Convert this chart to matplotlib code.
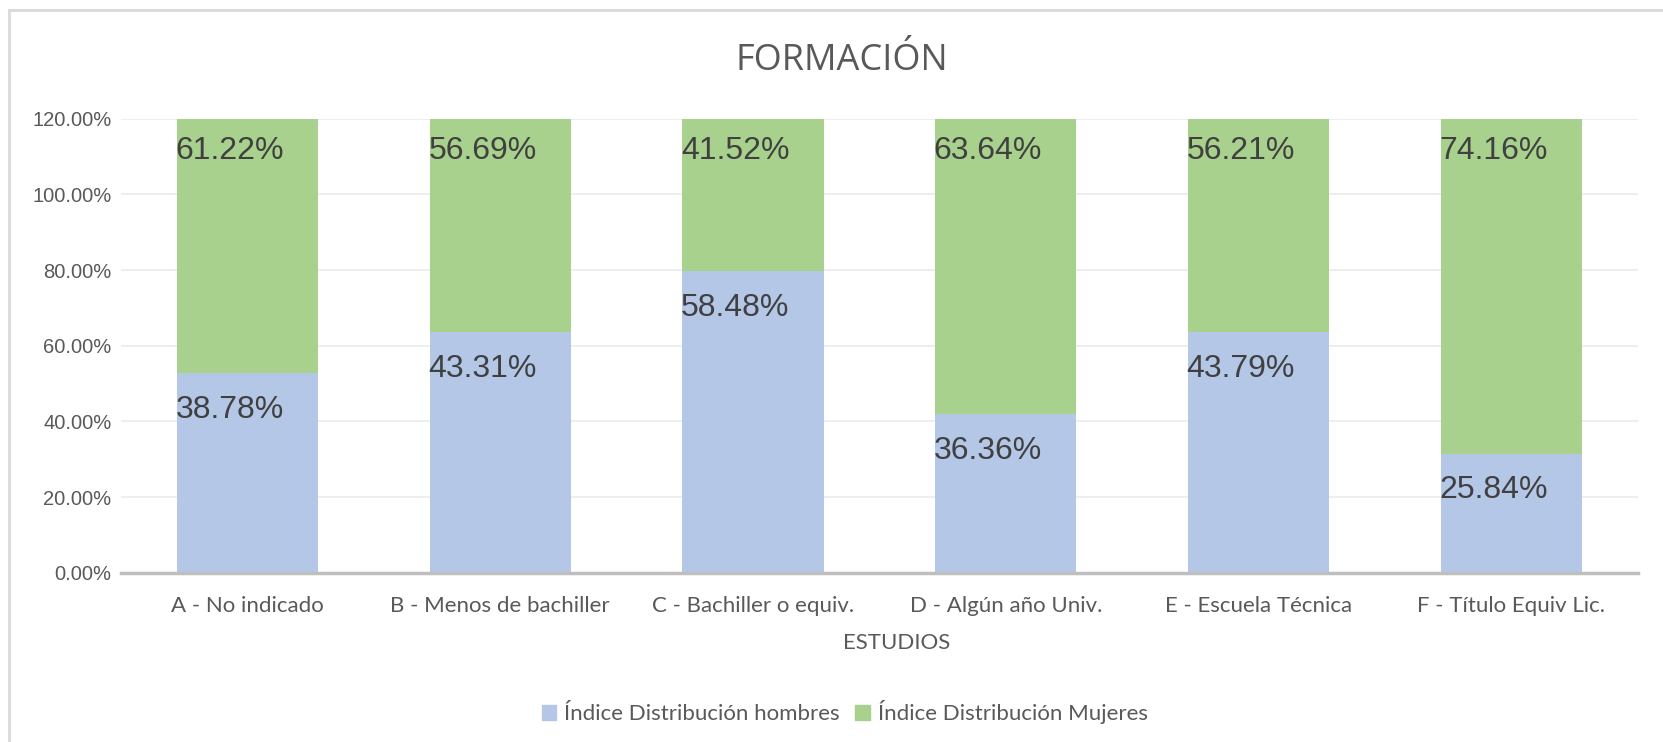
import numpy as np
import matplotlib
matplotlib.use("Agg")
import matplotlib.pyplot as plt
from matplotlib.lines import Line2D
from matplotlib.patches import Patch

categorias = ["A - No indicado", "B - Menos de bachiller", "C - Bachiller o equiv.",
              "D - Algún año Univ.", "E - Escuela Técnica", "F - Título Equiv Lic."]
# bar heights as drawn (axis units, %)
alto_hombres = [52.8, 63.6, 79.7, 42.0, 63.6, 31.5]
alto_mujeres = [67.2, 56.4, 40.3, 78.0, 56.4, 88.5]
# data labels shown on the bars
etiq_hombres = ["38.78%", "43.31%", "58.48%", "36.36%", "43.79%", "25.84%"]
etiq_mujeres = ["61.22%", "56.69%", "41.52%", "63.64%", "56.21%", "74.16%"]
yticks = [0, 20, 40, 60, 80, 100, 120]

azul = "#b4c7e7"
verde = "#a9d18e"
gris = "#595959"

fig = plt.figure(figsize=(16.63, 7.42), dpi=100)
ax = fig.add_axes([0.0728, 0.228, 0.912, 0.612])

x = np.arange(len(categorias))
w = 0.558
ax.bar(x, alto_hombres, w, color=azul, zorder=2)
ax.bar(x, alto_mujeres, w, bottom=alto_hombres, color=verde, zorder=2)

ax.set_xlim(-0.5, len(categorias) - 0.5)
ax.set_ylim(0, 120)

for i in range(len(categorias)):
    ax.annotate(etiq_hombres[i], (x[i] - w / 2, alto_hombres[i]), xytext=(-1, -26.5),
                textcoords="offset points", ha="left", va="center",
                fontsize=23, color="#404040", family="Liberation Sans", zorder=3)
    ax.annotate(etiq_mujeres[i], (x[i] - w / 2, 120), xytext=(-1, -23.5),
                textcoords="offset points", ha="left", va="center",
                fontsize=23, color="#404040", family="Liberation Sans", zorder=3)

ax.set_yticks(yticks)
ax.set_yticklabels(["%.2f%%" % v for v in yticks], family="Liberation Sans",
                   fontsize=14.5, color=gris)
ax.set_xticks(x)
ax.set_xticklabels(categorias, family="Lato", fontsize=16, color=gris)
ax.tick_params(axis="both", length=0)
ax.tick_params(axis="x", pad=17)
ax.tick_params(axis="y", pad=7)

ax.grid(axis="y", color="#ededed", linewidth=1.3, zorder=0)
for s in ["top", "right", "left"]:
    ax.spines[s].set_visible(False)
ax.spines["bottom"].set_color("#bfbfbf")
ax.spines["bottom"].set_linewidth(2.5)
ax.spines["bottom"].set_zorder(4)

fig.text(0.506, 0.918, "FORMACIÓN", ha="center", va="center", fontsize=26,
         color=gris, family="Open Sans")
fig.text(0.539, 0.133, "ESTUDIOS", ha="center", va="center", fontsize=16,
         color=gris, family="Lato")

handles = [Patch(color=azul), Patch(color=verde)]
fig.legend(handles, ["Índice Distribución hombres", "Índice Distribución Mujeres"],
           loc="center", bbox_to_anchor=(0.508, 0.04), ncol=2, frameon=False,
           prop={"family": "Lato", "size": 16}, labelcolor=gris,
           handlelength=0.65, handleheight=0.65, handletextpad=0.35, columnspacing=0.7)

# chart area border (left and top edges)
fig.add_artist(Line2D([9 / 1663, 9 / 1663], [0, 1 - 10 / 742], color="#d9d9d9",
                      linewidth=2, transform=fig.transFigure))
fig.add_artist(Line2D([9 / 1663, 1], [1 - 10 / 742, 1 - 10 / 742], color="#d9d9d9",
                      linewidth=2, transform=fig.transFigure))

fig.savefig("out.png", dpi=100)
